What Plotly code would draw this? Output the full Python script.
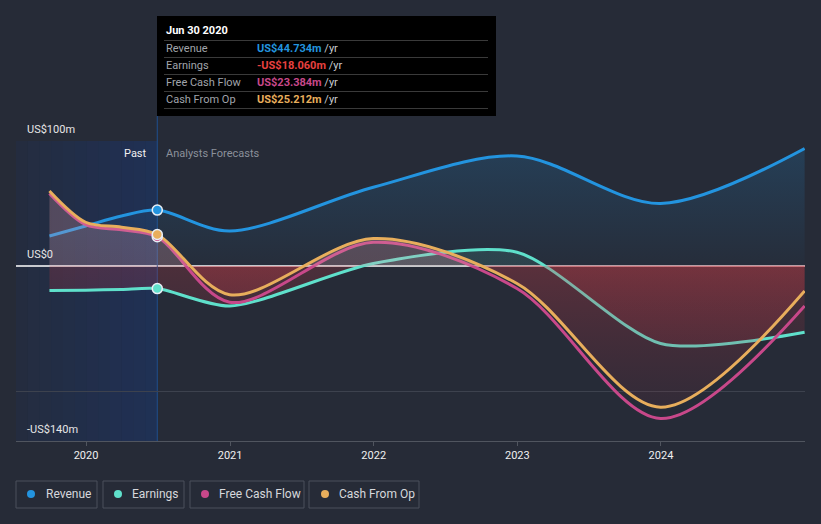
import plotly.graph_objects as go

# ---- data (US$ m) ----
dates = ['2019-09-30', '2019-12-31', '2020-03-31', '2020-06-30',
         '2020-12-31', '2021-12-31', '2022-12-31', '2023-12-31', '2024-12-31']
revenue = [24, 32, 40, 44.734, 28, 63, 88, 50, 94]
earnings = [-19.5, -19.3, -18.8, -18.06, -32, 2, 11, -62, -53]
free_cash_flow = [58, 33, 29, 23.384, -29, 19, -18, -122, -32]
cash_from_op = [60, 35, 31, 25.212, -23, 22, -14, -113, -20]
past_end = '2020-06-30'
tick_vals = ['2020-01-01', '2021-01-01', '2022-01-01', '2023-01-01', '2024-01-01']
tick_text = ['2020', '2021', '2022', '2023', '2024']
y_labels = ['US$100m', 'US$0', '-US$140m']

C_REV = '#2394df'
C_EARN = '#5fe0cb'
C_FCF = '#c8488a'
C_CFO = '#e8ae5c'
BG = '#262b37'
FONT = 'Roboto'

W, H = 821, 524
L, R, T, B = 16, 16, 141, 83
PW, PH = W - L - R, H - T - B


def px(x):
    return (x - L) / PW


def py(y):
    return (H - B - y) / PH


fig = go.Figure()

# revenue fill + line
fig.add_trace(go.Scatter(
    x=dates, y=revenue, mode='lines', line=dict(color=C_REV, width=3, shape='spline', smoothing=0.9),
    fill='tozeroy',
    fillgradient=dict(type='vertical', start=0, stop=100,
                      colorscale=[[0, 'rgba(35,148,223,0.02)'], [1, 'rgba(35,148,223,0.2)']]),
    hoverinfo='skip', showlegend=False))

z = 140 / 240
fig.add_trace(go.Scatter(
    x=dates, y=earnings, mode='lines', line=dict(color=C_EARN, width=3, shape='spline', smoothing=0.75),
    fill='tozeroy',
    fillgradient=dict(type='vertical', start=-140, stop=100,
                      colorscale=[[0, 'rgba(150,40,60,0.05)'], [z - 0.001, 'rgba(210,60,70,0.22)'],
                                  [z, 'rgba(95,224,203,0.12)'], [1, 'rgba(95,224,203,0.12)']]),
    hoverinfo='skip', showlegend=False))

fig.add_trace(go.Scatter(
    x=dates, y=free_cash_flow, mode='lines', line=dict(color=C_FCF, width=3, shape='spline', smoothing=0.9),
    hoverinfo='skip', showlegend=False))

fig.add_trace(go.Scatter(
    x=dates, y=cash_from_op, mode='lines', line=dict(color=C_CFO, width=3, shape='spline', smoothing=0.9),
    fill='tozeroy',
    fillgradient=dict(type='vertical', start=-140, stop=100,
                      colorscale=[[0, 'rgba(150,40,60,0.05)'], [z - 0.001, 'rgba(210,60,70,0.3)'],
                                  [z, 'rgba(230,160,170,0.25)'], [1, 'rgba(230,160,170,0.25)']]),
    hoverinfo='skip', showlegend=False))

# hover markers at Jun 30 2020
i = dates.index(past_end)
for ser, col in [(free_cash_flow, C_FCF), (cash_from_op, C_CFO), (earnings, C_EARN), (revenue, C_REV)]:
    fig.add_trace(go.Scatter(x=[dates[i]], y=[ser[i]], mode='markers',
                             marker=dict(color=col, size=10, line=dict(color='#e8eef5', width=1.5)),
                             hoverinfo='skip', showlegend=False))

shapes = []
# past region shading (horizontal gradient via strips)
n = 12
x_left = L
x_right = 157
for k in range(n):
    a0 = x_left + (x_right - x_left) * k / n
    a1 = x_left + (x_right - x_left) * (k + 1) / n
    alpha = 0.08 + 0.27 * (k + 1) / n
    shapes.append(dict(type='rect', xref='paper', yref='paper', x0=px(a0), x1=px(a1), y0=0, y1=1,
                       fillcolor=f'rgba(20,60,140,{alpha:.3f})', line=dict(width=0), layer='below'))
# zero line (under the traces): white on the left, pink-tinted on the right
shapes.append(dict(type='line', xref='paper', yref='y', x0=0, x1=px(472), y0=0, y1=0,
                   line=dict(color='#ffffff', width=1.5), layer='below'))
shapes.append(dict(type='line', xref='paper', yref='y', x0=px(472), x1=1, y0=0, y1=0,
                   line=dict(color='#f2c4c8', width=1.5), layer='below'))
# vertical divider
shapes.append(dict(type='line', xref='x', yref='paper', x0=past_end, x1=past_end, y0=0, y1=py(116),
                   line=dict(color='#1f4e8f', width=1), layer='below'))

# tooltip box
shapes.append(dict(type='rect', xref='paper', yref='paper', x0=px(157), x1=px(496), y0=py(116), y1=py(16),
                   fillcolor='#000000', line=dict(width=0)))
for sy in [40.5, 57.5, 74.5, 91.5, 108.5]:
    shapes.append(dict(type='line', xref='paper', yref='paper', x0=px(164), x1=px(488), y0=py(sy), y1=py(sy),
                       line=dict(color='#3a3a3a', width=1)))

annotations = []


def ann(x, y, text, color='#ffffff', size=11, xanchor='left', bold=False):
    annotations.append(dict(xref='paper', yref='paper', x=px(x), y=py(y), text=f'<b>{text}</b>' if bold else text,
                            showarrow=False, xanchor=xanchor, yanchor='middle',
                            font=dict(family=FONT, size=size, color=color)))


def fmt(v):
    s = f'US${abs(v):.3f}m'
    return '-' + s if v < 0 else s


ann(164, 31, 'Jun 30 2020', bold=True)
rows = [('Revenue', revenue[i], C_REV), ('Earnings', earnings[i], '#e8403f'),
        ('Free Cash Flow', free_cash_flow[i], C_FCF), ('Cash From Op', cash_from_op[i], C_CFO)]
for j, (lab, v, col) in enumerate(rows):
    yy = 48.5 + 17 * j
    ann(164, yy, lab, color='#a0a4ab')
    ann(255, yy, f"<span style='color:{col}'><b>{fmt(v)}</b></span> /yr", color='#c9ccd1')

# y labels
ann(25, 129, y_labels[0], color='#e6e6e6')
ann(25, 254, y_labels[1], color='#e6e6e6')
ann(25, 429, y_labels[2], color='#e6e6e6')

# past / forecast labels
ann(149, 153, 'Past', color='#f0f0f0', xanchor='right')
ann(164, 153, 'Analysts Forecasts', color='#8b909a')

# legend
legend = [('Revenue', C_REV, 16, 97, 31, 44),
          ('Earnings', C_EARN, 103, 184, 118, 130),
          ('Free Cash Flow', C_FCF, 190, 304, 205, 217),
          ('Cash From Op', C_CFO, 309, 419, 325, 337)]
for lab, col, bx0, bx1, dx, tx in legend:
    shapes.append(dict(type='rect', xref='paper', yref='paper', x0=px(bx0), x1=px(bx1), y0=py(508), y1=py(481),
                       line=dict(color='#4a505c', width=1), fillcolor='rgba(0,0,0,0)'))
    shapes.append(dict(type='circle', xref='paper', yref='paper', x0=px(dx - 4), x1=px(dx + 4),
                       y0=py(498), y1=py(490), fillcolor=col, line=dict(width=0)))
    ann(tx, 494, lab, color='#d6d8dc', size=12)

fig.update_layout(
    width=W, height=H, autosize=False,
    margin=dict(l=L, r=R, t=T, b=B),
    paper_bgcolor=BG, plot_bgcolor=BG,
    font=dict(family=FONT, color='#e6e6e6'),
    shapes=shapes, annotations=annotations,
    xaxis=dict(type='date', range=['2019-07-07', '2025-01-01'], tickvals=tick_vals, ticktext=tick_text,
               showgrid=False, showline=True, linecolor='#50555f', linewidth=1,
               ticks='outside', ticklen=4, tickcolor='#50555f',
               tickfont=dict(family=FONT, size=11, color='#f0f0f0'), zeroline=False, fixedrange=True),
    yaxis=dict(range=[-140, 100], tickvals=[-100, 100], showticklabels=False,
               showgrid=True, gridcolor='#3d424e', gridwidth=1,
               zeroline=False, showline=False, fixedrange=True),
    hovermode=False,
)

fig.write_html('out.html', config={'displayModeBar': False},
               post_script="document.body.style.margin='0';document.body.style.overflow='hidden';"
                           "document.body.style.background='" + BG + "';")
